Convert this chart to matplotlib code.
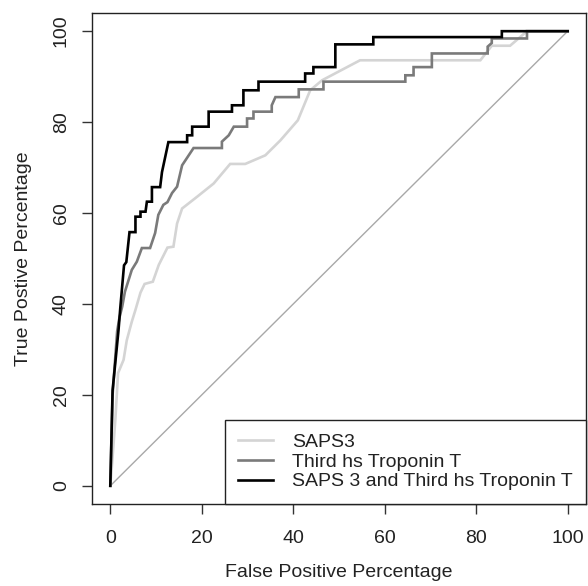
import numpy as np
import matplotlib.pyplot as plt

plt.rcParams['font.family'] = ['Liberation Sans', 'DejaVu Sans']

# ROC curves (false positive %, true positive %)
saps3_fpr = [0, 0.4, 1.1, 1.7, 2.9, 3.6, 4.7, 5.5, 6.6, 7.5, 9.3, 10.6, 12.5, 13.8,
             14.6, 15.7, 19.0, 22.6, 26.2, 29.5, 33.9, 37.2, 41.0, 43.7, 46.3, 54.6,
             80.9, 83.4, 87.4, 91.1, 100]
saps3_tpr = [0, 5, 14.5, 24.8, 27.7, 32.0, 36.1, 38.7, 42.5, 44.4, 44.9, 48.6, 52.4, 52.6,
             57.7, 61.0, 63.6, 66.5, 70.8, 70.8, 72.7, 76.0, 80.4, 87.0, 89.2, 93.6,
             93.6, 96.8, 96.8, 100, 100]

trop_fpr = [0, 0.5, 1.5, 2.0, 2.6, 3.2, 4.7, 5.8, 6.9, 8.7, 9.8, 10.5, 11.6, 12.5,
            13.5, 14.6, 15.7, 18.2, 24.4, 24.4, 25.9, 27.0, 29.9, 29.9, 31.3, 31.3,
            35.3, 35.3, 36.1, 41.2, 41.2, 46.6, 46.6, 64.5, 64.5, 66.3, 66.3, 70.3,
            70.3, 82.5, 82.5, 83.4, 83.4, 91.1, 91.1, 100]
trop_tpr = [0, 20, 34, 37, 39.4, 42.7, 47.5, 49.3, 52.3, 52.3, 55.6, 59.6, 61.8, 62.4,
            64.4, 65.8, 70.5, 74.3, 74.3, 75.7, 77.1, 79.0, 79.0, 80.8, 80.8, 82.3,
            82.3, 83.7, 85.5, 85.5, 87.2, 87.2, 88.9, 88.9, 90.3, 90.3, 92.1, 92.1,
            95.1, 95.1, 96.6, 97.4, 98.4, 98.4, 100, 100]

comb_fpr = [0, 0.5, 1.8, 2.2, 3.0, 3.5, 4.2, 5.5, 5.5, 6.6, 6.6, 7.7, 8.0, 9.1, 9.1,
            10.9, 11.3, 12.0, 12.7, 16.8, 16.8, 17.9, 17.9, 21.5, 21.5, 26.6, 26.6,
            29.1, 29.1, 32.4, 32.4, 42.6, 42.6, 44.4, 44.4, 49.2, 49.2, 57.5, 57.5,
            85.6, 85.6, 100]
comb_tpr = [0, 21, 34.3, 39.3, 48.5, 49.2, 55.8, 55.8, 59.2, 59.2, 60.3, 60.3, 62.5, 62.5,
            65.7, 65.7, 69.0, 72.3, 75.6, 75.6, 77.1, 77.1, 79.0, 79.0, 82.3, 82.3,
            83.7, 83.7, 87.0, 87.0, 88.9, 88.9, 90.7, 90.7, 92.1, 92.1, 97.1, 97.1,
            98.7, 98.7, 100, 100]

labels = ['SAPS3', 'Third hs Troponin T', 'SAPS 3 and Third hs Troponin T']
colors = ['#d4d4d4', '#7a7a7a', '#000000']
ticks = [0, 20, 40, 60, 80, 100]

fs = 14
fig = plt.figure(figsize=(5.88, 5.86), dpi=100)
ax = fig.add_axes([92 / 588, 82 / 586, 494 / 588, 491 / 586])

# chance line
ax.plot([0, 100], [0, 100], color='#a8a8a8', linewidth=1.0)

for xs, ys, lab, col in zip([saps3_fpr, trop_fpr, comb_fpr],
                            [saps3_tpr, trop_tpr, comb_tpr], labels, colors):
    ax.plot(xs, ys, color=col, linewidth=1.9, label=lab, solid_joinstyle='miter')

ax.set_xlim(-4, 104)
ax.set_ylim(-4, 104)
ax.set_xticks(ticks)
ax.set_yticks(ticks)
ax.tick_params(axis='both', direction='out', length=7, width=1, labelsize=fs,
               color='#333333', labelcolor='#222222')
ax.tick_params(axis='x', pad=12)
ax.tick_params(axis='y', pad=9)
for lab in ax.get_yticklabels():
    lab.set_rotation(90)
    lab.set_va('center')
for s in ax.spines.values():
    s.set_color('#222222')
    s.set_linewidth(1.0)

ax.set_xlabel('False Positive Percentage', fontsize=fs, labelpad=12, color='#222222')
ax.set_ylabel('True Postive Percentage', fontsize=fs, labelpad=15, color='#222222')

leg = ax.legend(loc='lower right', fontsize=fs, borderaxespad=0, fancybox=False,
                framealpha=1, edgecolor='#222222', handlelength=1.8,
                handletextpad=0.95, labelspacing=0.1, borderpad=0.7)
leg.get_frame().set_linewidth(1.0)
for t in leg.get_texts():
    t.set_color('#222222')

fig.savefig('out.png', dpi=100)
